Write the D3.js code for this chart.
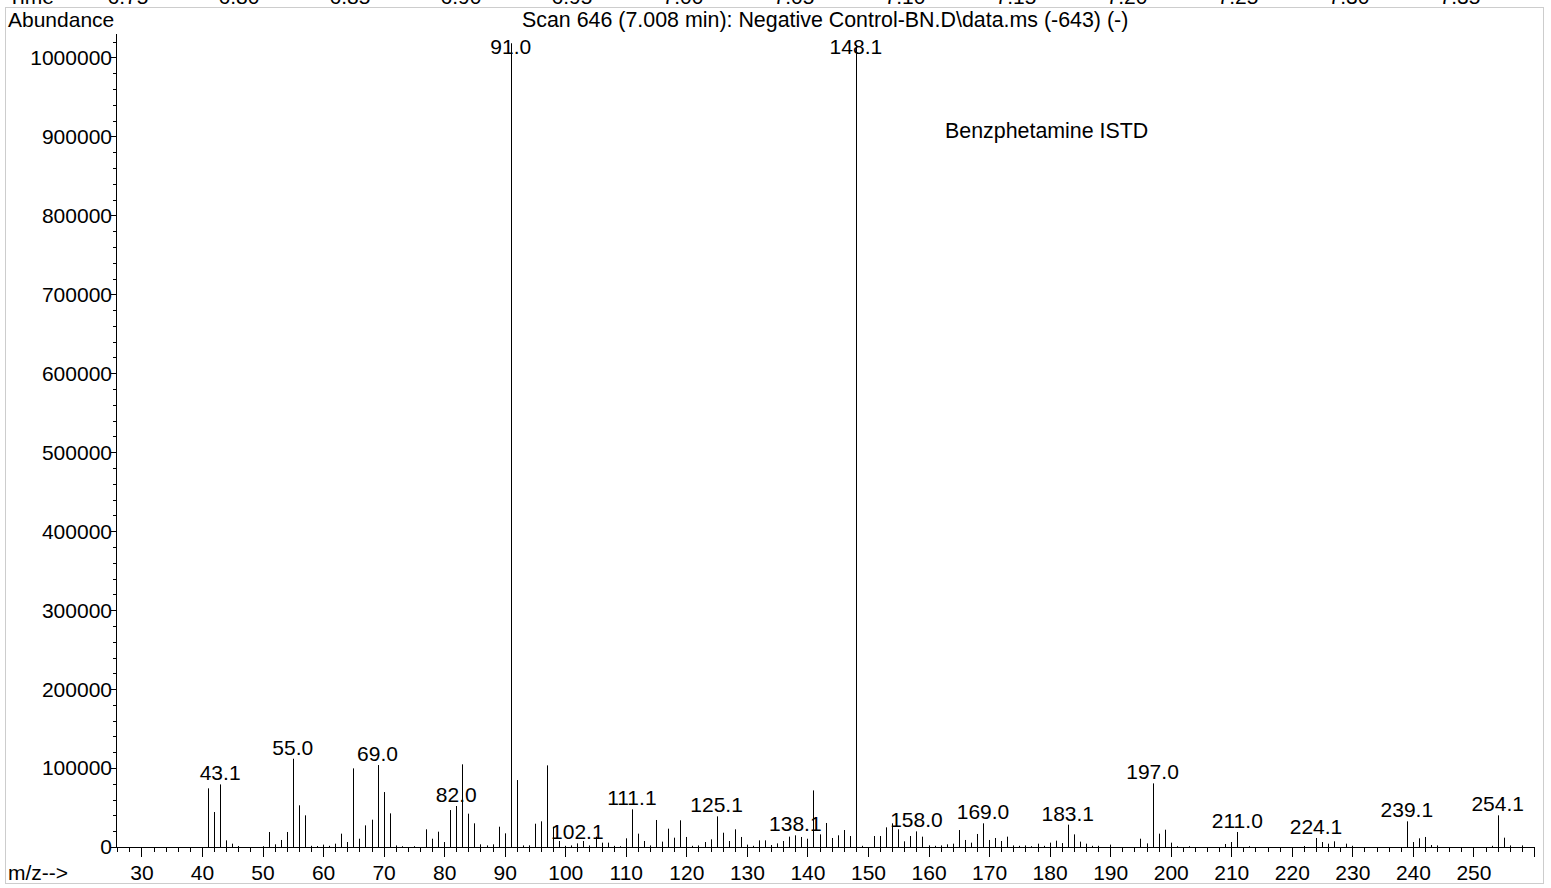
<!DOCTYPE html>
<html>
<head>
<meta charset="utf-8">
<script src="https://cdn.jsdelivr.net/npm/d3@7"></script>
<style>
  html, body { margin: 0; padding: 0; background: #fff; }
  svg { display: block; }
  text { font-family: "Liberation Sans", Arial, sans-serif; fill: #000; }
</style>
</head>
<body>
<svg id="chart" width="1551" height="888"></svg>
<script>
// ---------------- DATA ----------------
const mzValues = [41,42,43,44,45,46,50,51,52,53,54,55,56,57,58,59,60,61,62,63,64,65,66,67,68,69,70,71,72,73,75,
  77,78,79,80,81,82,83,84,85,86,87,88,89,90,91,92,93,94,95,96,97,98,99,100,101,102,103,104,105,106,107,108,109,
  110,111,112,113,114,115,116,117,118,119,120,121,122,123,124,125,126,127,128,129,130,131,132,133,134,135,136,137,
  138,139,140,141,142,143,144,145,146,147,148,149,151,152,153,154,155,156,157,158,159,160,161,162,163,164,165,166,
  167,168,169,170,171,172,173,174,175,176,177,178,179,180,181,182,183,184,185,186,187,188,190,195,196,197,198,199,
  200,201,203,209,210,211,213,222,224,225,226,227,229,230,239,240,241,242,243,244,253,254,255,256,258];
const abundances = [74300,44300,79300,8400,4200,1200,1000,19000,3400,8900,19000,111800,52800,40100,1500,1200,3000,1500,4200,16900,6300,99600,10500,27400,34600,103800,69600,42600,2000,1000,1000,
  22400,10500,19400,6300,46800,51900,104700,42200,30000,3400,2000,3400,25700,17300,1018000,84800,2000,2100,29500,32500,103400,25700,7600,1500,2000,4600,7600,2000,13100,5500,5500,1500,1000,
  11000,47700,16900,7600,2000,34200,6800,23200,11800,33800,12700,1500,2000,6300,9700,38800,18100,7600,22400,12700,3000,1500,8400,8400,2500,4600,7600,13100,
  14800,12700,10500,71700,16000,30400,11400,14800,21500,13900,1016000,1500,13900,13900,24900,30000,22400,7200,13900,19800,13100,2100,1500,2000,3400,4200,21500,8900,
  5500,16500,30000,8900,11400,7600,13100,2000,1500,2000,1000,4200,1500,5500,8000,5000,28300,16000,6800,4200,1500,1500,3000,10500,4600,80600,16900,21900,
  5500,1000,1000,3800,6300,19000,1000,1300,11400,6300,4200,7200,4200,1500,32500,6300,11000,12700,2500,2000,1500,40100,11800,2000,2000];

const labelMz = [43,55,69,82,91,102,111,125,138,148,158,169,183,197,211,224,239,254];
const labelText = ["43.1","55.0","69.0","82.0","91.0","102.1","111.1","125.1","138.1","148.1","158.0","169.0","183.1","197.0","211.0","224.1","239.1","254.1"];

const xMajorTicks = [30,40,50,60,70,80,90,100,110,120,130,140,150,160,170,180,190,200,210,220,230,240,250];
const yMajorTicks = [0,100000,200000,300000,400000,500000,600000,700000,800000,900000,1000000];
const timeTicks = [6.75,6.80,6.85,6.90,6.95,7.00,7.05,7.10,7.15,7.20,7.25,7.30,7.35];

const titleText = "Scan 646 (7.008 min): Negative Control-BN.D\\data.ms (-643) (-)";
const annotationText = "Benzphetamine ISTD";
const yAxisTitle = "Abundance";
const xAxisTitle = "m/z-->";
const timeTitle = "Time";

// ---------------- LAYOUT ----------------
const svg = d3.select("#chart");
const FS = 21;
const FS_TITLE = 21.4;

const x = d3.scaleLinear().domain([25.8, 260]).range([116, 1534]);
const y = d3.scaleLinear().domain([0, 1031000]).range([847, 33]);
const tScale = d3.scaleLinear().domain([6.75, 7.35]).range([128, 1460]);

// frame
svg.append("rect").attr("x", 5.5).attr("y", 7.5).attr("width", 1538).attr("height", 876)
  .attr("fill", "none").attr("stroke", "#cdcdcd").attr("stroke-width", 1);

// time axis labels at the top (cut off by the window edge, as in the reference)
svg.append("text").attr("x", 8).attr("y", 4).attr("font-size", FS).text(timeTitle);
svg.selectAll("text.time").data(timeTicks).join("text").attr("class", "time")
  .attr("x", d => tScale(d)).attr("y", 4).attr("text-anchor", "middle").attr("font-size", FS)
  .text(d => d.toFixed(2));

// titles
svg.append("text").attr("x", 8).attr("y", 27).attr("font-size", FS).text(yAxisTitle);
svg.append("text").attr("x", 522).attr("y", 27).attr("font-size", FS_TITLE).text(titleText);
svg.append("text").attr("x", 945).attr("y", 138).attr("font-size", FS_TITLE).text(annotationText);
svg.append("text").attr("x", 8).attr("y", 880).attr("font-size", FS).text(xAxisTitle);

// Y axis
const yMinor = d3.range(0, 1030001, 20000);
svg.append("g").attr("transform", "translate(116,0)")
  .call(d3.axisLeft(y).tickValues(yMinor).tickSize(3).tickSizeOuter(0).tickFormat(""))
  .call(g => g.selectAll("line,path").attr("stroke", "#000").attr("shape-rendering", "crispEdges"));
svg.append("g").attr("transform", "translate(116,0)")
  .call(d3.axisLeft(y).tickValues(yMajorTicks).tickSize(5).tickSizeOuter(0).tickFormat(d3.format("d")))
  .call(g => g.select(".domain").remove())
  .call(g => g.selectAll("line").attr("stroke", "#000").attr("shape-rendering", "crispEdges"))
  .call(g => g.selectAll("text").attr("font-size", FS).attr("font-family", "Liberation Sans, Arial, sans-serif").attr("x", -4).attr("dy", "0.33em").attr("fill", "#000"));

// X axis
const xMinor = d3.range(26, 261, 2);
svg.append("g").attr("transform", "translate(0,847)")
  .call(d3.axisBottom(x).tickValues(xMinor).tickSize(5).tickSizeOuter(0).tickFormat(""))
  .call(g => g.selectAll("line,path").attr("stroke", "#000").attr("shape-rendering", "crispEdges"));
svg.append("g").attr("transform", "translate(0,847)")
  .call(d3.axisBottom(x).tickValues(xMajorTicks.concat([260])).tickSize(10).tickSizeOuter(0).tickFormat(d => d === 260 ? "" : d))
  .call(g => g.select(".domain").remove())
  .call(g => g.selectAll("line").attr("stroke", "#000").attr("shape-rendering", "crispEdges"))
  .call(g => g.selectAll("text").attr("font-size", FS).attr("font-family", "Liberation Sans, Arial, sans-serif").attr("y", 33).attr("dy", 0).attr("fill", "#000"));

// peaks
const peaks = mzValues.map((m, i) => ({ mz: m, ab: abundances[i] }));
svg.append("g").selectAll("line").data(peaks).join("line")
  .attr("x1", d => Math.round(x(d.mz)) + 0.5).attr("x2", d => Math.round(x(d.mz)) + 0.5)
  .attr("y1", y(0)).attr("y2", d => y(d.ab))
  .attr("stroke", "#000").attr("stroke-width", 1);

// peak labels
const abByMz = new Map(peaks.map(p => [p.mz, p.ab]));
svg.append("g").selectAll("text").data(labelMz).join("text")
  .attr("x", d => x(d)).attr("y", d => Math.max(y(abByMz.get(d)) - 4, 54))
  .attr("text-anchor", "middle").attr("font-size", FS)
  .text((d, i) => labelText[i]);
</script>
</body>
</html>
